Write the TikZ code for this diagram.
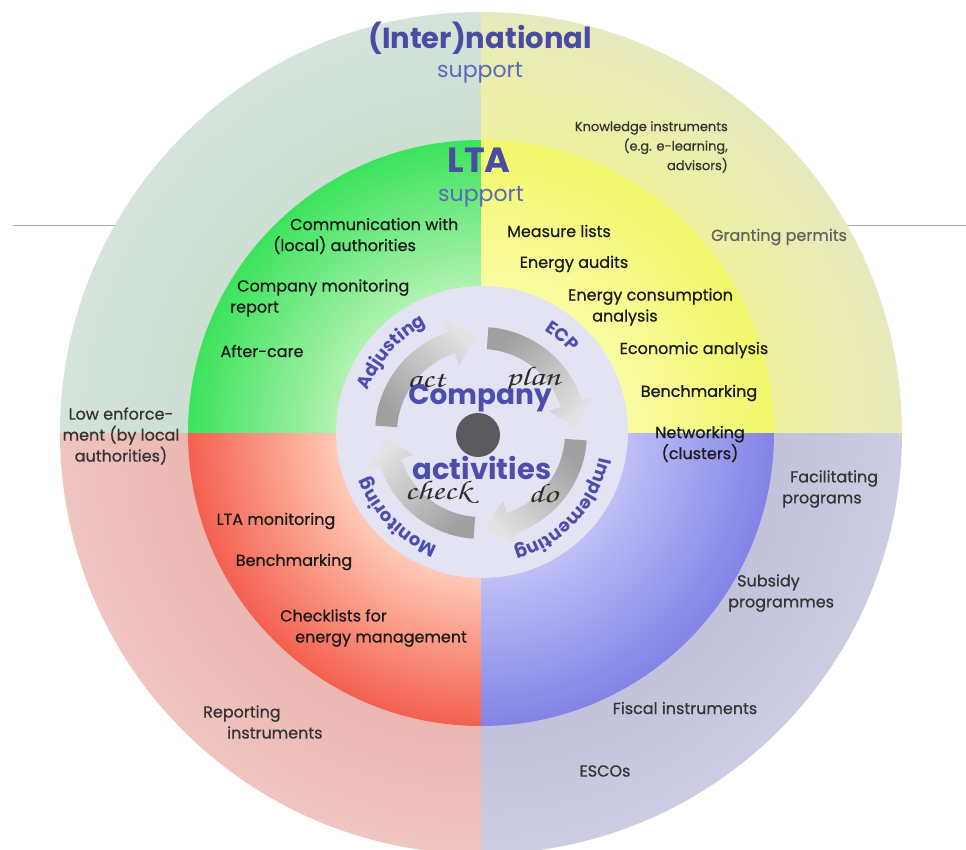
\documentclass[tikz,border=0pt]{standalone}
\usepackage{fontspec}
\setmainfont{Poppins}
\newfontfamily\bodyfont{Poppins}[FakeBold=0.6]
\usetikzlibrary{decorations.text}

% ---- palette ----
\definecolor{outTL}{HTML}{CDDFD3}
\definecolor{outTLb}{HTML}{D5E3DA}
\definecolor{outTR}{HTML}{EEF29E}
\definecolor{outTRb}{HTML}{E7E9BE}
\definecolor{outBL}{HTML}{ECB7B3}
\definecolor{outBLb}{HTML}{EFC4C1}
\definecolor{outBR}{HTML}{C2C2DC}
\definecolor{outBRb}{HTML}{CCCCE3}
\definecolor{midTLin}{HTML}{B0F2B0}
\definecolor{midTLout}{HTML}{3CE35C}
\definecolor{midTRin}{HTML}{FAFCA2}
\definecolor{midTRout}{HTML}{F1F86A}
\definecolor{midBLin}{HTML}{FFC8B4}
\definecolor{midBLout}{HTML}{F4604F}
\definecolor{midBRin}{HTML}{BEBEF8}
\definecolor{midBRout}{HTML}{8383E6}
\definecolor{coredisc}{HTML}{E3E3F4}
\definecolor{hub}{HTML}{5A5A5E}
\definecolor{ttlblue}{HTML}{4B4BA4}
\definecolor{subblue}{HTML}{5A6AB4}
\definecolor{phaseblue}{HTML}{4D4DAE}
\definecolor{arrowdark}{HTML}{A0A0A0}
\definecolor{arrowlight}{HTML}{E2E2E2}
\definecolor{guide}{HTML}{A8A8A8}

% ---- radial ring shadings (25bp = outer radius of the shaded disc) ----
\pgfdeclareradialshading{outerTL}{\pgfpoint{0bp}{0bp}}{color(0bp)=(outTL); color(17.3bp)=(outTL); color(25bp)=(outTLb); color(50bp)=(outTLb)}
\pgfdeclareradialshading{outerTR}{\pgfpoint{0bp}{0bp}}{color(0bp)=(outTR); color(17.3bp)=(outTR); color(25bp)=(outTRb); color(50bp)=(outTRb)}
\pgfdeclareradialshading{outerBL}{\pgfpoint{0bp}{0bp}}{color(0bp)=(outBL); color(17.3bp)=(outBL); color(25bp)=(outBLb); color(50bp)=(outBLb)}
\pgfdeclareradialshading{outerBR}{\pgfpoint{0bp}{0bp}}{color(0bp)=(outBR); color(17.3bp)=(outBR); color(25bp)=(outBRb); color(50bp)=(outBRb)}
\pgfdeclareradialshading{midTL}{\pgfpoint{0bp}{0bp}}{color(0bp)=(midTLin); color(12.5bp)=(midTLin); color(25bp)=(midTLout); color(50bp)=(midTLout)}
\pgfdeclareradialshading{midTR}{\pgfpoint{0bp}{0bp}}{color(0bp)=(midTRin); color(12.5bp)=(midTRin); color(25bp)=(midTRout); color(50bp)=(midTRout)}
\pgfdeclareradialshading{midBL}{\pgfpoint{0bp}{0bp}}{color(0bp)=(midBLin); color(12.5bp)=(midBLin); color(25bp)=(midBLout); color(50bp)=(midBLout)}
\pgfdeclareradialshading{midBR}{\pgfpoint{0bp}{0bp}}{color(0bp)=(midBRin); color(12.5bp)=(midBRin); color(25bp)=(midBRout); color(50bp)=(midBRout)}

\newcommand{\phasefont}{\fontsize{18}{18}\selectfont\bfseries}
\newcommand{\scriptword}[1]{\scalebox{1.3}[1]{\fontencoding{OT1}\fontfamily{pzc}\fontseries{mb}\fontshape{it}\fontsize{27}{27}\selectfont #1}}

% one curved cycle arrow: tail angle, head-base angle, shading angle
\newcommand{\cyclearrow}[3]{%
  \shade[top color=arrowlight, bottom color=arrowdark, shading angle=#3]
    (#1:84pt) -- (#1:106pt) arc[start angle=#1, end angle=#2, radius=106pt]
    -- (#2:119pt) -- ({#2-15}:95pt) -- (#2:71pt) -- (#2:84pt)
    arc[start angle=#2, end angle=#1, radius=84pt] -- cycle;}

\tikzset{
  lbl/.style={inner sep=0pt, font=\bodyfont\fontsize{16}{21}\selectfont, text=black!90, align=left},
  olbl/.style={lbl, text=black!80},
  title/.style={inner sep=0pt, font=\fontsize{29}{29}\selectfont\bfseries, text=ttlblue},
  subtitle/.style={inner sep=0pt, font=\fontsize{22}{22}\selectfont, text=subblue},
  corelabel/.style={inner sep=0pt, font=\fontsize{28}{28}\selectfont\bfseries, text=phaseblue},
  pdca/.style={inner sep=0pt, text=black!82},
  phase/.style={decorate, decoration={text along path, text align=center, text color=phaseblue, text={|\phasefont|#1}}}
}

\begin{document}
\begin{tikzpicture}[x=1pt, y=1pt]
\useasboundingbox (-481,-416) rectangle (485,433);
\fill[white] (-481,-416) rectangle (485,433);

% horizontal guide line running behind the disc
\draw[guide, line width=0.9pt] (-468,208) -- (485,208);

% outer ring: (inter)national support
\begin{scope}\clip (0,0) rectangle (-440,440); \shade[shading=outerTL] (0,0) circle[radius=421pt]; \end{scope}
\begin{scope}\clip (0,0) rectangle (440,440);  \shade[shading=outerTR] (0,0) circle[radius=421pt]; \end{scope}
\begin{scope}\clip (0,0) rectangle (-440,-440); \shade[shading=outerBL] (0,0) circle[radius=421pt]; \end{scope}
\begin{scope}\clip (0,0) rectangle (440,-440);  \shade[shading=outerBR] (0,0) circle[radius=421pt]; \end{scope}

% middle ring: LTA support
\begin{scope}\clip (0,0) rectangle (-300,300); \shade[shading=midTL] (0,0) circle[radius=293pt]; \end{scope}
\begin{scope}\clip (0,0) rectangle (300,300);  \shade[shading=midTR] (0,0) circle[radius=293pt]; \end{scope}
\begin{scope}\clip (0,0) rectangle (-300,-300); \shade[shading=midBL] (0,0) circle[radius=293pt]; \end{scope}
\begin{scope}\clip (0,0) rectangle (300,-300);  \shade[shading=midBR] (0,0) circle[radius=293pt]; \end{scope}

% inner disc: company activities
\fill[coredisc] (1,1) circle[radius=146pt];

% plan-do-check-act cycle
\cyclearrow{176}{108}{-46}
\cyclearrow{86}{18}{-136}
\cyclearrow{-4}{-72}{134}
\cyclearrow{-94}{-162}{44}
\fill[hub] (-3,-2) circle[radius=22pt];

% phase names along the disc rim
\path[phase=Adjusting] (178:121pt) arc[start angle=178, end angle=98, radius=121pt];
\path[phase=ECP] (90:121pt) arc[start angle=90, end angle=10, radius=121pt];
\path[phase=Implementing] (5:121pt) arc[start angle=5, end angle=-91, radius=121pt];
\path[phase=Monitoring] (-90:121pt) arc[start angle=-90, end angle=-180, radius=121pt];

% centre labels
\node[pdca] (act)   at (-55,53)  {\scriptword{act}};
\node[pdca] (plan)  at (52,53)   {\scriptword{plan}};
\node[pdca] (check) at (-43,-60) {\scriptword{check}};
\node[pdca] (do)    at (62,-60)  {\scriptword{do}};
\node[corelabel] (company)    at (-1,35)  {Company};
\node[corelabel, font=\fontsize{29}{29}\selectfont\bfseries] (activities) at (1,-35)  {activities};

% titles
\node[title]    (intl)    at (-1,395)  {(Inter)national};
\node[subtitle] (intlsup) at (-1,360)  {support};
\node[title, font=\fontsize{35}{35}\selectfont\bfseries] (lta) at (-2,273) {LTA};
\node[subtitle] (ltasup)  at (0,236)  {support};

% middle ring: LTA support instruments
\node[lbl, anchor=west] (comm)  at (-208,197) {\hspace{17pt}Communication with\\(local) authorities};
\node[lbl, anchor=west] (cmon)  at (-251,135) {\hspace{7pt}Company monitoring\\report};
\node[lbl] (aftercare) at (-219,82) {After-care};
\node[lbl] (measure)   at (78,202)  {Measure lists};
\node[lbl] (audits)    at (93,169)  {Energy audits};
\node[lbl, anchor=west] (consum) at (87,126) {Energy consumption\\\hspace{24pt}analysis};
\node[lbl] (econ)      at (213,83)  {Economic analysis};
\node[lbl] (benchR)    at (218,40)  {Benchmarking};
\node[lbl, align=center] (network) at (219,-11) {Networking\\(clusters)};
\node[lbl] (ltamon)    at (-205,-88)  {LTA monitoring};
\node[lbl] (benchL)    at (-187,-129) {Benchmarking};
\node[lbl, anchor=west] (checkl) at (-201,-195) {Checklists for\\\hspace{15pt}energy management};

% outer ring: (inter)national support instruments
\node[olbl, anchor=north east, align=right, font=\bodyfont\fontsize{13}{19.5}\selectfont] (knowl) at (247,312) {Knowledge instruments\\(e.g. e-learning,\\advisors)};
\node[olbl, text=black!62] (granting) at (298,196) {Granting permits};
\node[olbl, align=center] (lowenf) at (-360,-3) {Low enforce-\\ment (by local\\authorities)};
\node[olbl, anchor=west] (facil)  at (301,-56)  {\hspace{8pt}Facilitating\\programs};
\node[olbl, anchor=west] (subsid) at (247,-160) {\hspace{9pt}Subsidy\\programmes};
\node[olbl] (fiscal) at (204,-275) {Fiscal instruments};
\node[olbl] (escos)  at (124,-338) {ESCOs};
\node[olbl, anchor=west] (report) at (-278,-289) {Reporting\\\hspace{24pt}instruments};
\end{tikzpicture}
\end{document}
